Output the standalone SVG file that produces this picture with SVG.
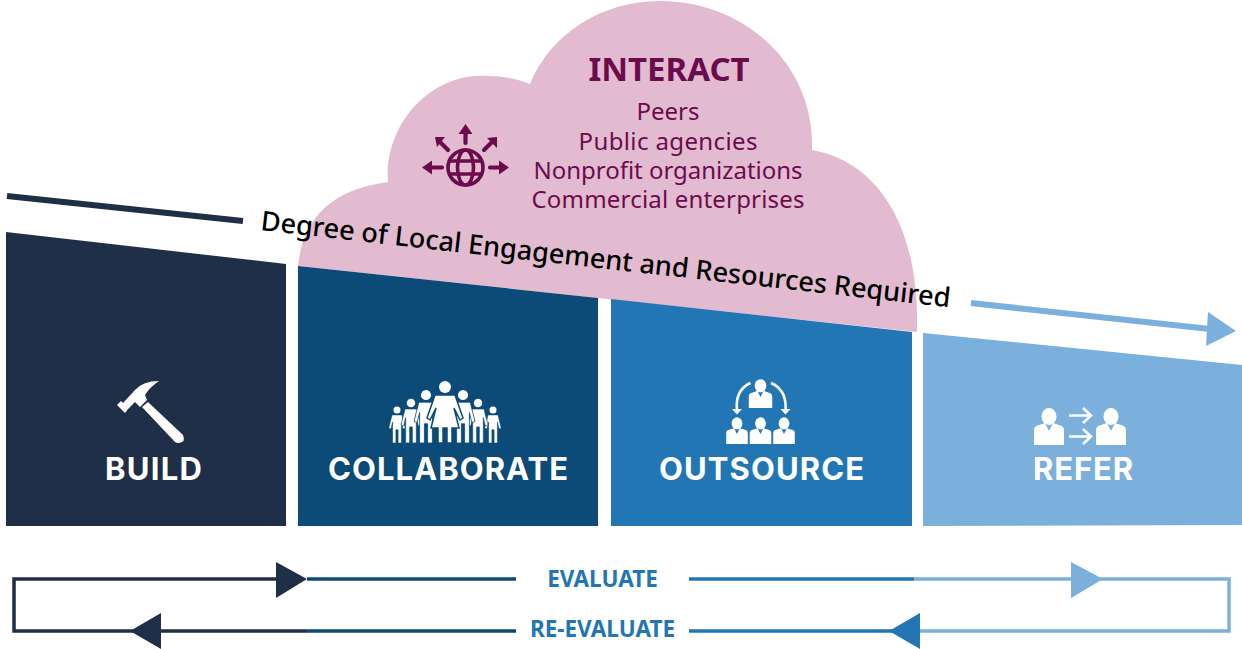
<svg xmlns="http://www.w3.org/2000/svg" width="1242" height="649" viewBox="0 0 1242 649">
<style>
text{font-family:"Noto Sans","Open Sans","Liberation Sans",sans-serif}
.lab{font-family:Inter,"Noto Sans",sans-serif;font-size:31px;font-weight:700;fill:#fff;text-anchor:middle}
.ev{font-size:22.500px;font-weight:700;fill:#2376b4;text-anchor:middle}
.sub{font-size:24px;fill:#6b0b4e;text-anchor:middle}
.ic{fill:#fff}
.ln{fill:none;stroke-width:3.5}
.gl{fill:none;stroke:#6b0b4e;stroke-width:3.6}
.ga{fill:none;stroke:#6b0b4e;stroke-width:4.2;stroke-linecap:round}
.wa{fill:none;stroke:#fff;stroke-width:2.6}
</style>
<defs>
<g id="person"><ellipse cx="0" cy="-13.500" rx="7.500" ry="8.500"/><path d="M-15 15V0Q-15 -4 -10 -5L-4 -7L0 1L4 -7L10 -5Q15 -4 15 0V15Z"/></g>
<g id="fig"><circle cx="0" cy="-13" r="3.200"/><path d="M-4.500 -8.500H4.500L7.500 3.500L5.500 4.200L4 -2V17H1V5H-1V17H-4V-2L-5.500 4.200L-7.500 3.500Z" stroke="#0c4a77" stroke-width=".5"/></g>
</defs>
<rect width="1242" height="649" fill="#fff"/>

<g id="interact">
<path d="M298 266C302 225 325 190 388 182C384 125 430 72 488 76C505 76 520 80 530 84C550 35 600 1 660 1C745 1 815 65 812 150C870 160 920 215 917 332Z" fill="#e2bbd0"/>
<text x="669" y="81" font-size="33" font-weight="700" fill="#6b0b4e" text-anchor="middle">INTERACT</text>
<text class="sub" x="668" y="120">Peers</text>
<text class="sub" x="668" y="150" textLength="179">Public agencies</text>
<text class="sub" x="668" y="179" textLength="269">Nonprofit organizations</text>
<text class="sub" x="668" y="208" textLength="273">Commercial enterprises</text>
<g id="globe-icon">
<circle class="gl" cx="465.500" cy="167.500" r="17.500"/>
<ellipse class="gl" cx="465.500" cy="167.500" rx="8" ry="17.500"/>
<path class="gl" d="M449 161H482M449 174H482"/>
<path class="ga" d="M465.500 143V132M448 150L440 142M484 150L492 142M442 167.500H431M490 167.500H500"/>
<path fill="#6b0b4e" d="M465.500 124L472.500 134H458.500ZM435 137H445L437 147ZM497 137V148L487 138ZM422 167.500L432 160.500V174.500ZM509 167.500L499 160.500V174.500Z"/>
</g>
</g>

<g id="build">
<path d="M6 232L286 264V526H6Z" fill="#1f2f47"/>
<text class="lab" x="153.500" y="480" textLength="97">BUILD</text>
<path class="ic" d="M117 405L121 401L123 403L135 390Q143 381 159 381Q150 387 145 395L147 400L140 407L135 402L128 409L125 413Z"/>
<path class="ic" d="M148 402L183 435Q185 441 182 442Q178 444 175 442L142 407Z"/>
</g>

<g id="collaborate">
<path d="M298 266L598 298V526H298Z" fill="#0c4a77"/>
<text class="lab" x="448" y="480" textLength="240">COLLABORATE</text>
<g class="ic">
<use href="#fig" transform="translate(397 424.300) scale(1.1)"/><use href="#fig" transform="translate(493 424.300) scale(1.1)"/>
<use href="#fig" transform="translate(411 420.300) scale(1.33)"/><use href="#fig" transform="translate(478 420.300) scale(1.33)"/>
<use href="#fig" transform="translate(426 415.800) scale(1.6)"/><use href="#fig" transform="translate(463 415.800) scale(1.6)"/>
<circle cx="445" cy="387" r="6"/>
<path d="M435 395H455L463 418L460 420L454 408L459 428H452V443H447V428H443V443H438V428H431L436 408L430 420L427 418Z" stroke="#0c4a77" stroke-width="1.500"/>
</g>
</g>

<g id="outsource">
<path d="M611 299L912 332V526H611Z" fill="#2376b4"/>
<text class="lab" x="761.500" y="480" textLength="205">OUTSOURCE</text>
<g class="ic">
<use href="#person" transform="translate(760.500 396.300) scale(.78)"/>
<use href="#person" transform="translate(737 433.200) scale(.72)"/>
<use href="#person" transform="translate(760.500 433.200) scale(.72)"/>
<use href="#person" transform="translate(784 433.200) scale(.72)"/>
</g>
<path class="wa" d="M750.500 383Q735 390 737 410M771 383Q787 390 785.500 410"/>
<path class="ic" d="M732 409L737 414.500L742 409ZM780.500 409L785.500 414.500L790.500 409Z"/>
</g>

<g id="refer">
<path d="M923 333L1242 365V525L923 526Z" fill="#7ab0db"/>
<text class="lab" x="1083" y="480" textLength="100">REFER</text>
<g class="ic">
<use href="#person" transform="translate(1049 430)"/>
<use href="#person" transform="translate(1111 430)"/>
</g>
<path class="wa" d="M1069 415.500H1090M1083 408L1091 415.500L1083 423M1069 436.500H1090M1083 429L1091 436.500L1083 444"/>
</g>

<g id="connectors">
<path d="M7 196L243 221" stroke="#1f2f47" stroke-width="6" fill="none"/>
<path d="M971 303L1210 329" stroke="#7ab0db" stroke-width="6" fill="none"/>
<path d="M1208 312L1236 331L1206 346Z" fill="#7ab0db"/>
<path class="ln" stroke="#1f2f47" d="M280 579H14V631H307"/>
<path class="ln" stroke="#0c4a77" d="M307 579H516M307 631H516"/>
<path class="ln" stroke="#2376b4" d="M689 579H914M689 631H895"/>
<path class="ln" stroke="#7ab0db" d="M914 579H1229V631H915"/>
<path d="M276 562L307 579L276 598Z" fill="#1f2f47"/>
<path d="M161 613L130 631L161 649Z" fill="#1f2f47"/>
<path d="M1071 562L1103 579L1071 598Z" fill="#7ab0db"/>
<path d="M920 613L889 631L920 649Z" fill="#2376b4"/>
</g>

<text transform="translate(260 230) rotate(6.400)" font-size="27.100" font-weight="500" fill="#000">Degree of Local Engagement and Resources Required</text>
<text class="ev" x="602.500" y="587">EVALUATE</text>
<text class="ev" x="602.500" y="637">RE-EVALUATE</text>
</svg>
